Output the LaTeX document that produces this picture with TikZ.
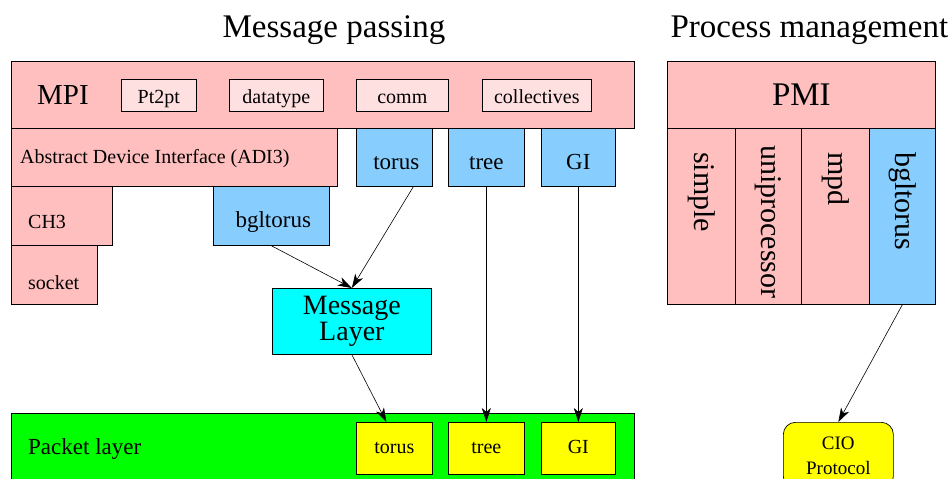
\documentclass[tikz,border=0pt]{standalone}
\usepackage{fontspec}
\setmainfont{Liberation Serif}
\usepackage{tikz}
\usetikzlibrary{arrows.meta}
\usepackage{xcolor}
\usetikzlibrary{positioning}

\definecolor{mpipink}{RGB}{255,191,191}
\definecolor{lightpink}{RGB}{255,224,224}
\definecolor{devblue}{RGB}{135,206,255}
\definecolor{mlcyan}{RGB}{0,255,255}
\definecolor{pktgreen}{RGB}{0,255,0}
\definecolor{pktyellow}{RGB}{255,255,0}

\begin{document}
\begin{tikzpicture}[x=1pt,y=-1pt]
  \tikzset{box/.style = {draw,line width=0.7pt,anchor=north west,inner sep=0pt,font=\fontsize{20}{22}\selectfont}}
  \tikzset{pinkbox/.style = {box,fill=mpipink}}
    \tikzset{subbox/.style = {box,fill=lightpink,minimum height=32pt,text height=19pt,text depth=3pt}}
    \tikzset{bluebox/.style = {box,fill=devblue,font=\fontsize{23}{24}\selectfont,text height=26pt,text depth=2pt}}
    \tikzset{pktbox/.style = {box,fill=pktyellow,minimum height=52pt,text height=14pt,text depth=4.5pt}}
    \tikzset{colbox/.style = {box,minimum height=176pt}}
  \tikzset{title/.style = {font=\fontsize{33}{34}\selectfont,anchor=base}}
  \tikzset{collabel/.style = {rotate=-90,anchor=west,inner sep=0pt,font=\fontsize{30}{30}\selectfont}}
  \tikzset{edge/.style = {-figtip,line width=0.6pt}}
  \tikzset{%
  figtip/.tip={Stealth[length=14pt,width=9pt,inset=4pt]},
}

  \useasboundingbox (0,0) rectangle (951,479);

	\node[title] (msgtitle) at (334,37) {Message passing};
	\node[title,anchor=base west] (pmtitle) at (667,37) {Process management};

	% MPI stack
	\node[pinkbox,minimum width=623pt,minimum height=67pt] (MPI) at (11,61) {};
	\node[font=\fontsize{29}{30}\selectfont] (MPIlabel) at (63,95) {MPI};
	\node[subbox,minimum width=75pt] (Pt2pt) at (121,79) {Pt2pt};
	\node[subbox,minimum width=94pt] (datatype) at (229,79) {datatype};
	\node[subbox,minimum width=92pt] (comm) at (356,79) {comm};
	\node[subbox,minimum width=109pt] (coll) at (482,79) {collectives};

	\node[pinkbox,minimum width=326pt,minimum height=58pt] (ADI) at (11,128) {};
	\node[anchor=west,inner sep=0pt,font=\fontsize{20}{22}\selectfont] (ADIlabel) at (20,159) {Abstract Device Interface (ADI3)};
	\node[pinkbox,minimum width=101pt,minimum height=59pt] (CH3) at (11,186) {};
	\node[anchor=west,inner sep=0pt,font=\fontsize{20}{22}\selectfont] (CH3label) at (28,222) {CH3};
	\node[pinkbox,minimum width=86pt,minimum height=59pt] (socket) at (11,245) {};
	\node[anchor=west,inner sep=0pt,font=\fontsize{20}{22}\selectfont] (socketlabel) at (28,283) {socket};

	\node[bluebox,minimum width=76pt,minimum height=58pt] (torusD) at (356,128) {\,torus};
	\node[bluebox,minimum width=76pt,minimum height=58pt] (treeD) at (448,128) {tree};
	\node[bluebox,minimum width=74pt,minimum height=58pt] (GID) at (541,128) {GI};
	\node[bluebox,minimum width=116pt,minimum height=59pt] (bgltorusD) at (213,186) {\,bgltorus};

	\node[box,fill=mlcyan,minimum width=159pt,minimum height=66pt,align=center,font=\fontsize{28}{26}\selectfont] (ML) at (272,288) {Message\\Layer};

	% packet layer
	\node[box,fill=pktgreen,minimum width=623pt,minimum height=72pt] (packet) at (11,413) {};
	\node[anchor=west,inner sep=0pt,font=\fontsize{23}{24}\selectfont] (packetlabel) at (28,449) {Packet layer};
	\node[pktbox,minimum width=76pt] (torusP) at (356,422) {torus};
	\node[pktbox,minimum width=76pt] (treeP) at (448,422) {tree};
	\node[pktbox,minimum width=74pt] (GIP) at (541,422) {GI};

	% process management
	\node[pinkbox,minimum width=268pt,minimum height=67pt,font=\fontsize{33}{34}\selectfont] (PMI) at (667,61) {PMI};
	\node[colbox,fill=mpipink,minimum width=68pt] (simple) at (667,128) {};
	\node[colbox,fill=mpipink,minimum width=66pt] (uni) at (735,128) {};
	\node[colbox,fill=mpipink,minimum width=68pt] (mpd) at (801,128) {};
	\node[colbox,fill=devblue,minimum width=66pt] (bgltorusP) at (869,128) {};
	\node[collabel] at (simple.north |- 0,152) {simple};
	\node[collabel] at (uni.north |- 0,145) {uniprocessor};
	\node[collabel] at (mpd.north |- 0,152) {mpd};
	\node[collabel] at (bgltorusP.north |- 0,152) {bgltorus};

	\node[box,fill=pktyellow,rounded corners=12pt,minimum width=110pt,minimum height=66pt,align=center,font=\fontsize{19}{25}\selectfont] (CIO) at (783,422) {CIO\\Protocol};

    \path[edge] (bgltorusD.south) edge (ML.north);
    \path[edge] ([xshift=19pt]torusD.south) edge (ML.north);
    \path[edge] (ML.south) edge ([xshift=-8pt]torusP.north);
    \foreach \from/\to in {treeD/treeP,GID/GIP,bgltorusP/CIO}
    \path[edge] (\from.south) edge (\to.north);

\end{tikzpicture}
\end{document}
